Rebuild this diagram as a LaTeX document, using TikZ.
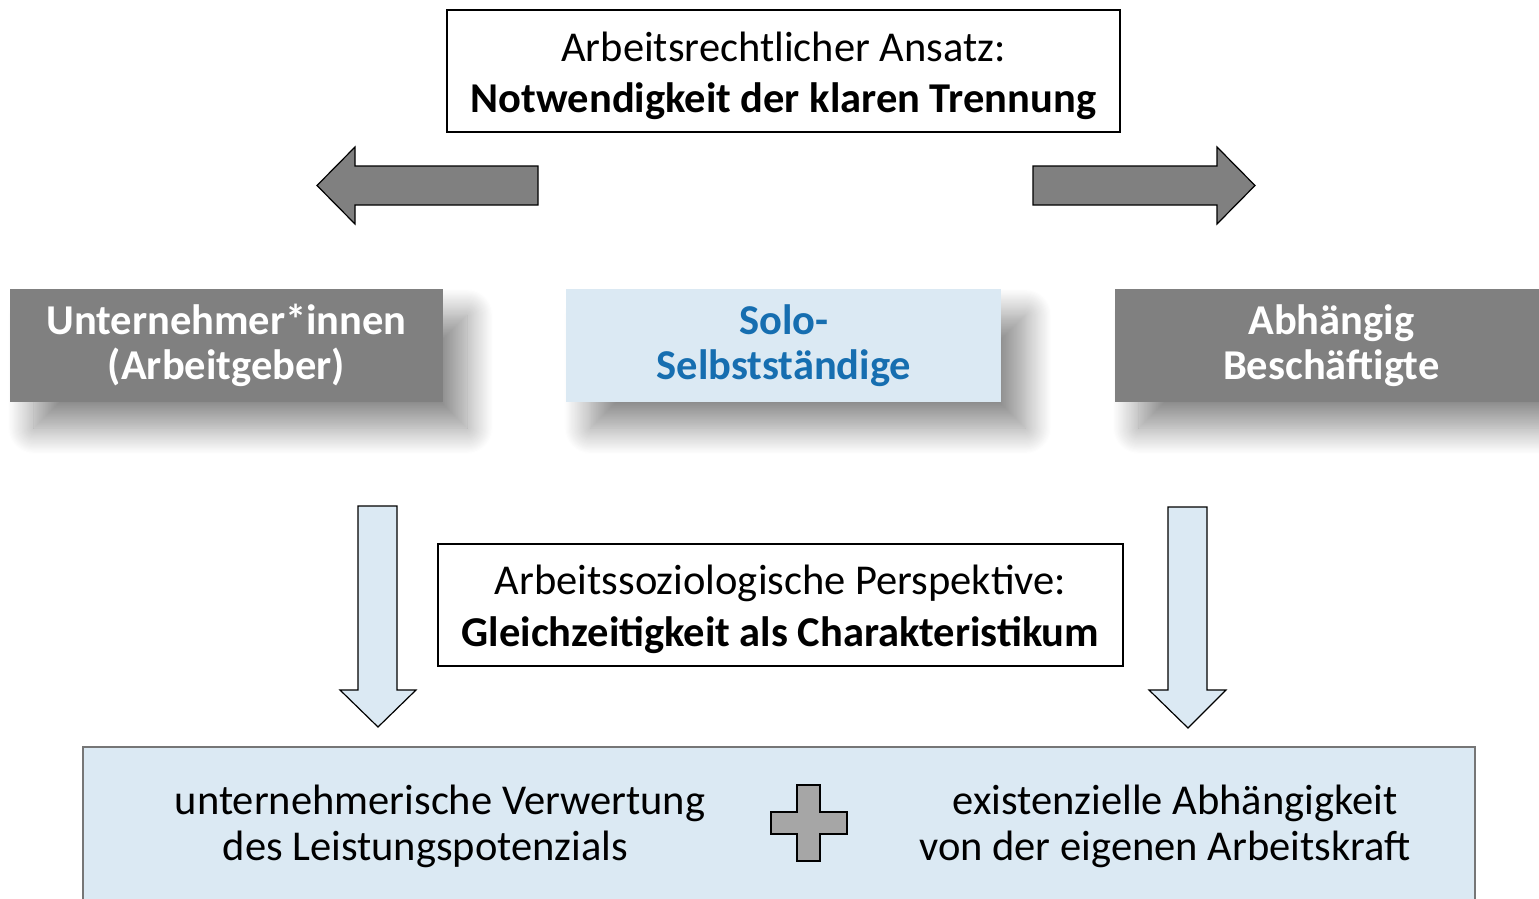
\documentclass[tikz,border=0pt]{standalone}
\usepackage{fontspec}
\setmainfont{Carlito}
\usepackage{tikz}
\usetikzlibrary{positioning}
\usetikzlibrary{shadows.blur}
\definecolor{groupgray}{RGB}{128,128,128}
\definecolor{plusgray}{RGB}{166,166,166}
\definecolor{paleblue}{RGB}{219,233,243}
\definecolor{soloblue}{RGB}{22,110,176}
\definecolor{framegray}{RGB}{118,118,118}
\newcommand{\toppad}{\rule{0pt}{39pt}}
\tikzstyle{thesis} = [draw=black, line width=1.5pt, fill=white, align=center,
    minimum width=673pt, minimum height=122pt, inner sep=0pt,
    font=\fontsize{42.5}{51}\selectfont]
\tikzstyle{group} = [fill=groupgray, text=white, align=center, inner sep=0pt,
    minimum width=433pt, minimum height=113pt,
    font=\fontsize{42.5}{45.5}\selectfont\bfseries,
    blur shadow={shadow xshift=24pt, shadow yshift=-26pt, shadow blur radius=26pt,
                 shadow blur steps=24, shadow opacity=45}]
\tikzstyle{solo} = [group, fill=paleblue, text=soloblue, minimum width=435pt]
\tikzstyle{result} = [draw=framegray, line width=2.2pt, fill=paleblue,
    minimum width=1392pt, minimum height=154pt]
\tikzstyle{feature} = [align=center, inner sep=0pt, font=\fontsize{42.5}{46}\selectfont]
\tikzstyle{grayarrow} = [draw=black, line width=1.2pt, fill=groupgray]
\tikzstyle{bluearrow} = [draw=black, line width=1.2pt, fill=paleblue]
\tikzstyle{plus} = [draw=black, line width=1.5pt, fill=plusgray]

\begin{document}
\begin{tikzpicture}[x=1pt, y=-1pt]
  \useasboundingbox (0,0) rectangle (1539,899);
  \clip (0,0) rectangle (1539,899);

  % Place nodes
  \node [thesis] (recht) at (783.5,71) {\toppad Arbeitsrechtlicher Ansatz:\\\textbf{Notwendigkeit der klaren Trennung}};
  \node [group] (unternehmer) at (226.5,345.5) {Unternehmer*innen\\(Arbeitgeber)};
  \node [solo, right=123pt of unternehmer] (selbst) {Solo-\\Selbstständige};
  \node [group, right=113pt of selbst] (abhaengig) {Abhängig\\Beschäftigte};
  \node [thesis, minimum width=685pt, font=\fontsize{42.5}{52}\selectfont] (soziologie) at (780.5,605) {\toppad Arbeitssoziologische Perspektive:\\\textbf{Gleichzeitigkeit als Charakteristikum}};
  \node [result] (gleichzeitig) at (779,824) {};
  % second lines are set a little off centre, as in the slide
  \node [feature] (verwertung) at (440,826) {unternehmerische Verwertung\\des Leistungspotenzials\hspace*{29pt}};
  \node [feature] (abhaengigkeit) at (1165,826) {\hspace*{20pt}existenzielle Abhängigkeit\\von der eigenen Arbeitskraft};

  % Block arrows
  \draw [grayarrow] (538,166) -- (355,166) -- (355,147) -- (317,185.5) -- (355,224) -- (355,205) -- (538,205) -- cycle;
  \draw [grayarrow] (1033,166) -- (1217,166) -- (1217,147) -- (1255,185.5) -- (1217,224) -- (1217,205) -- (1033,205) -- cycle;
  \draw [bluearrow] (358,506) -- (397,506) -- (397,690) -- (416,690) -- (378,727) -- (340,690) -- (358,690) -- cycle;
  \draw [bluearrow] (1168,507) -- (1207,507) -- (1207,690) -- (1226,690) -- (1188,728) -- (1149,690) -- (1168,690) -- cycle;

  % Plus sign
  \draw [plus] (797,785) -- (820,785) -- (820,812) -- (847,812) -- (847,834) -- (820,834)
    -- (820,861) -- (797,861) -- (797,834) -- (771,834) -- (771,812) -- (797,812) -- cycle;
\end{tikzpicture}
\end{document}
